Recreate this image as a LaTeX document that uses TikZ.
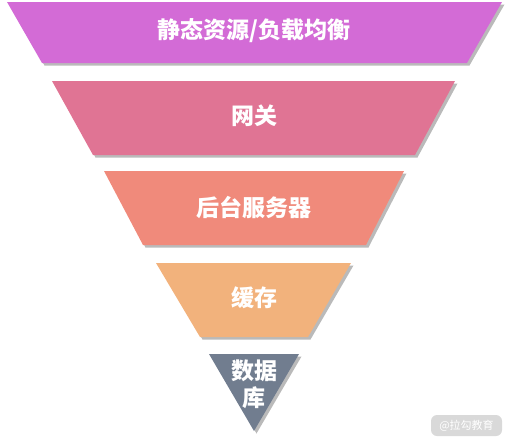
\documentclass[tikz,border=0pt]{standalone}
\usepackage{fontspec}
\newfontfamily\cjk{Noto Sans CJK SC}
\usepackage{tikz}
\usetikzlibrary{shadows}
\definecolor{cstatic}{HTML}{D36BD6}
\definecolor{cgate}{HTML}{E07494}
\definecolor{cserver}{HTML}{F08A7B}
\definecolor{ccache}{HTML}{F2B27C}
\definecolor{cdb}{HTML}{717D8F}
\tikzset{
    layer/.style={
    draw=none,drop shadow={shadow xshift=2.5pt,shadow yshift=-2.5pt,opacity=0.45,fill=black!60}
    },
    label/.style={
    text=white,font=\cjk\bfseries\fontsize{23}{27}\selectfont,align=center,inner sep=0pt
    },
    wmark/.style={
    rectangle,rounded corners=6pt,fill=black!15,text=white,font=\cjk\fontsize{11}{13}\selectfont,
    minimum width=71pt,minimum height=21pt,inner sep=0pt
    },
}
\begin{document}
\begin{tikzpicture}[x=1pt,y=-1pt]
   \useasboundingbox (0,0) rectangle (508,442);
   % funnel layers
   \fill[layer,fill=cstatic] (7,2) -- (502,2) -- (467,63) -- (42,63) -- cycle;
   \fill[layer,fill=cgate] (52,81) -- (455,81) -- (415,155) -- (93,155) -- cycle;
   \fill[layer,fill=cserver] (104,171) -- (404,171) -- (366,245) -- (143,245) -- cycle;
   \fill[layer,fill=ccache] (156,263) -- (351,263) -- (308,337) -- (200,337) -- cycle;
   \fill[layer,fill=cdb] (209,354) -- (299,354) -- (254,431) -- cycle;

   \node[label] (lstatic) at (254,31) {静态资源/负载均衡};
   \node[label] (lgate) at (254,116) {网关};
   \node[label] (lserver) at (254,208) {后台服务器};
   \node[label] (lcache) at (254,298) {缓存};
   \node[label] (ldb) at (254,384) {数据\\库};

   \node[wmark] (wm) at (466.5,425.5) {@拉勾教育};
\end{tikzpicture}
\end{document}
